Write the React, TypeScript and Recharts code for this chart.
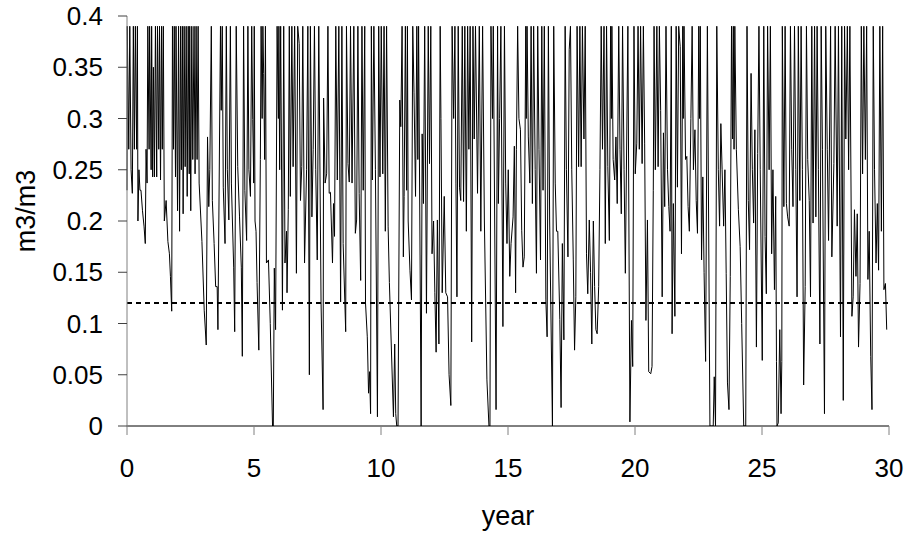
import React from 'react';
import { LineChart, Line, XAxis, YAxis, ReferenceLine } from 'recharts';

// Soil moisture (m3/m3), [year, value]
const years0to5: [number, number][] = [
  [0, 0.23], [0.01, 0.39], [0.07, 0.27], [0.11, 0.39], [0.16, 0.25], [0.21, 0.227], [0.25, 0.39], [0.29, 0.27],
  [0.33, 0.39], [0.38, 0.27], [0.41, 0.39], [0.43, 0.2], [0.47, 0.25], [0.51, 0.23], [0.55, 0.23], [0.61, 0.21],
  [0.67, 0.195], [0.72, 0.178], [0.75, 0.27], [0.79, 0.237], [0.82, 0.39], [0.87, 0.27], [0.89, 0.39], [0.95, 0.25],
  [0.97, 0.39], [1.01, 0.243], [1.04, 0.35], [1.08, 0.243], [1.12, 0.39], [1.17, 0.243], [1.2, 0.39], [1.25, 0.27],
  [1.28, 0.39], [1.32, 0.24], [1.36, 0.39], [1.39, 0.27], [1.43, 0.39], [1.47, 0.2], [1.54, 0.22], [1.61, 0.18],
  [1.67, 0.168], [1.71, 0.146], [1.76, 0.112], [1.79, 0.39], [1.83, 0.27], [1.86, 0.39], [1.91, 0.243], [1.93, 0.39],
  [1.99, 0.21], [2.03, 0.39], [2.07, 0.19], [2.11, 0.39], [2.14, 0.25], [2.18, 0.39], [2.21, 0.207], [2.25, 0.39],
  [2.29, 0.253], [2.33, 0.39], [2.37, 0.224], [2.41, 0.39], [2.45, 0.246], [2.47, 0.39], [2.51, 0.21], [2.55, 0.39],
  [2.59, 0.26], [2.64, 0.39], [2.68, 0.246], [2.72, 0.39], [2.76, 0.26], [2.8, 0.39], [2.84, 0.237], [2.95, 0.18],
  [3.04, 0.113], [3.12, 0.079], [3.17, 0.282], [3.22, 0.214], [3.26, 0.25], [3.32, 0.39], [3.36, 0.22], [3.43, 0.178],
  [3.49, 0.136], [3.55, 0.136], [3.58, 0.094], [3.68, 0.39], [3.71, 0.308], [3.75, 0.39], [3.79, 0.233], [3.86, 0.178],
  [3.91, 0.39], [3.95, 0.25], [4.01, 0.201], [4.07, 0.39], [4.11, 0.237], [4.2, 0.155], [4.24, 0.092], [4.3, 0.39],
  [4.36, 0.253], [4.43, 0.204], [4.5, 0.155], [4.54, 0.068], [4.59, 0.39], [4.64, 0.23], [4.71, 0.181], [4.76, 0.39],
  [4.8, 0.25], [4.86, 0.224], [4.91, 0.39], [4.95, 0.299], [4.99, 0.237],
];

const years5to10: [number, number][] = [
  [5.01, 0.39], [5.04, 0.2], [5.08, 0.19], [5.12, 0.14], [5.19, 0.074], [5.25, 0.26], [5.28, 0.39], [5.32, 0.3],
  [5.35, 0.39], [5.38, 0.344], [5.42, 0.26], [5.45, 0.39], [5.49, 0.159], [5.57, 0.162], [5.64, 0.1], [5.73, 0],
  [5.76, 0], [5.8, 0.154], [5.85, 0.094], [5.91, 0.39], [5.96, 0.3], [5.98, 0.39], [6.01, 0.25], [6.05, 0.39],
  [6.12, 0.113], [6.17, 0.39], [6.22, 0.159], [6.28, 0.19], [6.3, 0.13], [6.35, 0.211], [6.39, 0.39], [6.43, 0.224],
  [6.49, 0.39], [6.54, 0.253], [6.6, 0.39], [6.67, 0.149], [6.72, 0.39], [6.78, 0.373], [6.83, 0.22], [6.88, 0.253],
  [6.92, 0.39], [6.99, 0.159], [7.07, 0.25], [7.12, 0.39], [7.18, 0.05], [7.22, 0.39], [7.28, 0.204], [7.33, 0.27],
  [7.38, 0.39], [7.43, 0.25], [7.49, 0.162], [7.55, 0.39], [7.64, 0.12], [7.72, 0.016], [7.74, 0.32], [7.8, 0.237],
  [7.86, 0.246], [7.91, 0.39], [7.96, 0.227], [8.01, 0.228], [8.09, 0.159], [8.13, 0.217], [8.17, 0.185], [8.22, 0.39],
  [8.28, 0.24], [8.34, 0.39], [8.41, 0.121], [8.46, 0.39], [8.51, 0.178], [8.61, 0.092], [8.64, 0.39], [8.7, 0.256],
  [8.75, 0.238], [8.8, 0.39], [8.86, 0.237], [8.93, 0.39], [8.99, 0.188], [9.04, 0.201], [9.09, 0.39], [9.14, 0.227],
  [9.2, 0.142], [9.25, 0.39], [9.3, 0.23], [9.36, 0.39], [9.39, 0.12], [9.46, 0.087], [9.51, 0.032], [9.55, 0.053],
  [9.59, 0.012], [9.62, 0.39], [9.66, 0.24], [9.72, 0.39], [9.78, 0.25], [9.86, 0.009], [9.91, 0.39], [9.96, 0.243],
  [10.01, 0.39], [10.07, 0.246],
];

const years10to15: [number, number][] = [
  [10.12, 0.39], [10.17, 0.19], [10.22, 0.39], [10.28, 0.195], [10.33, 0.14], [10.49, 0.009], [10.54, 0.08], [10.58, 0.012],
  [10.62, 0], [10.67, 0], [10.74, 0.318], [10.78, 0.292], [10.83, 0.39], [10.88, 0.165], [10.91, 0.224], [10.96, 0.39],
  [11.01, 0.23], [11.04, 0.39], [11.07, 0.2], [11.14, 0.152], [11.2, 0.123], [11.25, 0.39], [11.3, 0.325], [11.36, 0.224],
  [11.41, 0.39], [11.45, 0.26], [11.48, 0.39], [11.58, 0], [11.62, 0.285], [11.67, 0.217], [11.72, 0.39], [11.79, 0.11],
  [11.86, 0.39], [11.91, 0.256], [11.96, 0.39], [12.01, 0.168], [12.07, 0.2], [12.12, 0.13], [12.17, 0.072], [12.22, 0.201],
  [12.28, 0.08], [12.33, 0.39], [12.36, 0.3], [12.41, 0.13], [12.49, 0.224], [12.55, 0.13], [12.62, 0.126], [12.68, 0.05],
  [12.75, 0.02], [12.8, 0.39], [12.86, 0.3], [12.91, 0.39], [12.95, 0.237], [12.99, 0.126], [13.04, 0.39], [13.09, 0.233],
  [13.14, 0.22], [13.2, 0.39], [13.25, 0.219], [13.3, 0.39], [13.36, 0.19], [13.41, 0.39], [13.46, 0.27], [13.51, 0.39],
  [13.57, 0.082], [13.62, 0.39], [13.67, 0.28], [13.72, 0.39], [13.8, 0.227], [13.87, 0.39], [13.93, 0.19], [14.0, 0.39],
  [14.07, 0.2], [14.17, 0.045], [14.25, 0], [14.29, 0], [14.33, 0.39], [14.39, 0.3], [14.42, 0.39], [14.53, 0.016],
  [14.59, 0.39], [14.62, 0.217], [14.67, 0.3], [14.72, 0.39], [14.8, 0.097], [14.86, 0.39], [14.91, 0.237], [14.96, 0.178],
  [15.01, 0.25], [15.07, 0.146], [15.12, 0.178], [15.2, 0.204], [15.25, 0.273], [15.3, 0.13],
];

const years15to20: [number, number][] = [
  [15.33, 0.27], [15.38, 0.39], [15.43, 0.3], [15.49, 0.289], [15.54, 0.191], [15.59, 0.155], [15.64, 0.165], [15.7, 0.39],
  [15.72, 0.3], [15.75, 0.39], [15.8, 0.282], [15.86, 0.237], [15.91, 0.39], [15.96, 0.217], [16.01, 0.39], [16.07, 0.25],
  [16.12, 0.149], [16.17, 0.39], [16.22, 0.27], [16.28, 0.162], [16.33, 0.39], [16.38, 0.23], [16.43, 0.39], [16.49, 0.123],
  [16.54, 0.087], [16.59, 0.39], [16.64, 0.2], [16.75, 0], [16.8, 0.39], [16.86, 0.237], [16.91, 0.19], [16.96, 0.19],
  [17.04, 0.104], [17.09, 0.018], [17.14, 0.178], [17.2, 0.084], [17.25, 0.39], [17.3, 0.25], [17.36, 0.165], [17.41, 0.367],
  [17.46, 0.39], [17.51, 0.25], [17.57, 0.162], [17.62, 0.074], [17.67, 0.126], [17.72, 0.39], [17.78, 0.253], [17.83, 0.39],
  [17.88, 0.253], [17.93, 0.39], [17.99, 0.28], [18.04, 0.39], [18.09, 0.168], [18.14, 0.129], [18.2, 0.201], [18.25, 0.15],
  [18.3, 0.08], [18.36, 0.2], [18.41, 0.136], [18.46, 0.094], [18.51, 0.09], [18.57, 0.136], [18.62, 0.25], [18.67, 0.39],
  [18.72, 0.27], [18.78, 0.39], [18.83, 0.178], [18.88, 0.39], [18.93, 0.253], [18.99, 0.181], [19.04, 0.39], [19.07, 0.3],
  [19.09, 0.39], [19.14, 0.26], [19.2, 0.24], [19.25, 0.282], [19.3, 0.217], [19.36, 0.39], [19.41, 0.27], [19.46, 0.207],
  [19.51, 0.39], [19.57, 0.25], [19.62, 0.149], [19.72, 0.39], [19.8, 0.004], [19.86, 0.103], [19.91, 0.058], [19.96, 0.39],
  [20.01, 0.246], [20.07, 0.276], [20.12, 0.39], [20.17, 0.27], [20.22, 0.39], [20.28, 0.256], [20.33, 0.39], [20.38, 0.276],
  [20.43, 0.103],
];

const years20to25: [number, number][] = [
  [20.49, 0.201], [20.54, 0.053], [20.62, 0.051], [20.67, 0.058], [20.72, 0.23], [20.75, 0.39], [20.8, 0.25], [20.86, 0.39],
  [20.91, 0.253], [20.96, 0.39], [21.01, 0.308], [21.07, 0.126], [21.12, 0.286], [21.17, 0.214], [21.22, 0.39], [21.28, 0.25],
  [21.33, 0.214], [21.38, 0.19], [21.43, 0.39], [21.46, 0.09], [21.51, 0.217], [21.57, 0.107], [21.62, 0.39], [21.67, 0.233],
  [21.72, 0.39], [21.78, 0.37], [21.83, 0.168], [21.88, 0.39], [21.9, 0.3], [21.93, 0.39], [21.99, 0.26], [22.04, 0.263],
  [22.09, 0.214], [22.14, 0.19], [22.2, 0.3], [22.25, 0.39], [22.3, 0.25], [22.36, 0.289], [22.41, 0.22], [22.46, 0.188],
  [22.51, 0.39], [22.54, 0.3], [22.57, 0.39], [22.62, 0.162], [22.67, 0.243], [22.72, 0.15], [22.78, 0.063], [22.85, 0.39],
  [22.95, 0], [23.01, 0], [23.08, 0], [23.12, 0.048], [23.17, 0], [23.22, 0.39], [23.28, 0.25], [23.33, 0.195],
  [23.38, 0.295], [23.43, 0.25], [23.49, 0.195], [23.54, 0.25], [23.59, 0.149], [23.64, 0.042], [23.7, 0.016], [23.75, 0.146],
  [23.8, 0.39], [23.84, 0.28], [23.87, 0.39], [23.9, 0.27], [23.93, 0.39], [23.99, 0.27], [24.07, 0.211], [24.14, 0.175],
  [24.2, 0.1], [24.28, 0], [24.36, 0], [24.41, 0.39], [24.46, 0.22], [24.51, 0.172], [24.57, 0.344], [24.62, 0.25],
  [24.67, 0.198], [24.72, 0.289], [24.78, 0.077], [24.83, 0.266], [24.88, 0.39], [24.93, 0.25], [25.01, 0.064], [25.07, 0.39],
  [25.12, 0.185], [25.17, 0.129], [25.22, 0.39], [25.28, 0.25], [25.33, 0.39], [25.38, 0.168], [25.43, 0.25], [25.49, 0.133],
  [25.54, 0.224], [25.57, 0.063],
];

const years25to30: [number, number][] = [
  [25.59, 0], [25.64, 0.003], [25.7, 0.094], [25.75, 0.012], [25.78, 0.063], [25.8, 0.39], [25.86, 0.214], [25.91, 0.39],
  [25.96, 0.217], [26.01, 0.204], [26.07, 0.195], [26.12, 0.39], [26.17, 0.27], [26.22, 0.214], [26.28, 0.39], [26.33, 0.25],
  [26.38, 0.126], [26.43, 0.39], [26.49, 0.22], [26.54, 0.39], [26.59, 0.25], [26.64, 0.04], [26.7, 0.136], [26.75, 0.39],
  [26.8, 0.26], [26.86, 0.22], [26.91, 0.126], [26.96, 0.39], [27.01, 0.198], [27.07, 0.39], [27.12, 0.204], [27.17, 0.39],
  [27.22, 0.25], [27.28, 0.08], [27.33, 0.39], [27.38, 0.27], [27.46, 0.012], [27.51, 0.39], [27.57, 0.27], [27.62, 0.181],
  [27.7, 0.39], [27.75, 0.165], [27.83, 0.256], [27.88, 0.39], [27.96, 0.195], [28.01, 0.39], [28.09, 0.087], [28.14, 0.39],
  [28.2, 0.025], [28.25, 0.39], [28.3, 0.28], [28.36, 0.39], [28.41, 0.25], [28.46, 0.39], [28.54, 0.107], [28.59, 0.126],
  [28.64, 0.211], [28.7, 0.146], [28.75, 0.207], [28.8, 0.077], [28.86, 0.139], [28.91, 0.39], [28.96, 0.246], [29.01, 0.39],
  [29.07, 0.26], [29.12, 0.39], [29.17, 0.143], [29.22, 0.19], [29.28, 0.068], [29.33, 0.016], [29.38, 0.39], [29.43, 0.25],
  [29.49, 0.159], [29.54, 0.217], [29.59, 0.152], [29.64, 0.39], [29.7, 0.19], [29.75, 0.39], [29.8, 0.133], [29.86, 0.139],
  [29.91, 0.094],
];

const xTicks = [0, 5, 10, 15, 20, 25, 30];
const yTicks = [0, 0.05, 0.1, 0.15, 0.2, 0.25, 0.3, 0.35, 0.4];
const threshold = 0.12;
const xTitle = 'year';
const yTitle = 'm3/m3';

const data = [...years0to5, ...years5to10, ...years10to15, ...years15to20, ...years20to25, ...years25to30].map(
  ([year, value]) => ({ year, value })
);

const FONT = '"Liberation Sans", Arial, sans-serif';

const YTitle = (props: any) => {
  const vb = props.viewBox || { x: 0, y: 16, width: 127, height: 410 };
  const cx = vb.x + 26;
  const cy = vb.y + vb.height / 2 - 10;
  return (
    <text
      x={cx}
      y={cy}
      transform={`rotate(-90 ${cx} ${cy})`}
      textAnchor="middle"
      dominantBaseline="central"
      fontFamily={FONT}
      fontSize={27}
      fill="#000"
    >
      {yTitle}
    </text>
  );
};

const XTitle = (props: any) => {
  const vb = props.viewBox || { x: 127, y: 426, width: 762, height: 111 };
  const cx = vb.x + vb.width / 2;
  const cy = vb.y + 99;
  return (
    <text x={cx} y={cy} textAnchor="middle" fontFamily={FONT} fontSize={27} fill="#000">
      {xTitle}
    </text>
  );
};

export default function App() {
  return (
    <div style={{ position: 'absolute', left: 0, top: 0, background: '#fff' }}>
      <LineChart width={911} height={537} data={data} margin={{ top: 16, right: 22, bottom: 0, left: 0 }}>
        <XAxis
          dataKey="year"
          type="number"
          domain={[0, 30]}
          ticks={xTicks}
          height={111}
          tickSize={9}
          tickMargin={24}
          axisLine={{ stroke: '#000', strokeWidth: 1 }}
          tickLine={{ stroke: '#808080', strokeWidth: 1 }}
          tick={{ fill: '#000', fontSize: 26, fontFamily: FONT }}
          label={{ content: XTitle }}
        />
        <YAxis
          type="number"
          domain={[0, 0.4]}
          ticks={yTicks}
          width={127}
          tickSize={9}
          tickMargin={15}
          allowDataOverflow
          tickFormatter={(v: number) => String(v)}
          axisLine={{ stroke: '#808080', strokeWidth: 1 }}
          tickLine={{ stroke: '#404040', strokeWidth: 1 }}
          tick={{ fill: '#000', fontSize: 26, fontFamily: FONT }}
          label={{ content: YTitle }}
        />
        <ReferenceLine y={threshold} stroke="#000" strokeWidth={2} strokeDasharray="5 4" />
        <Line
          type="linear"
          dataKey="value"
          stroke="#000"
          strokeWidth={1}
          dot={false}
          activeDot={false}
          isAnimationActive={false}
        />
      </LineChart>
    </div>
  );
}
